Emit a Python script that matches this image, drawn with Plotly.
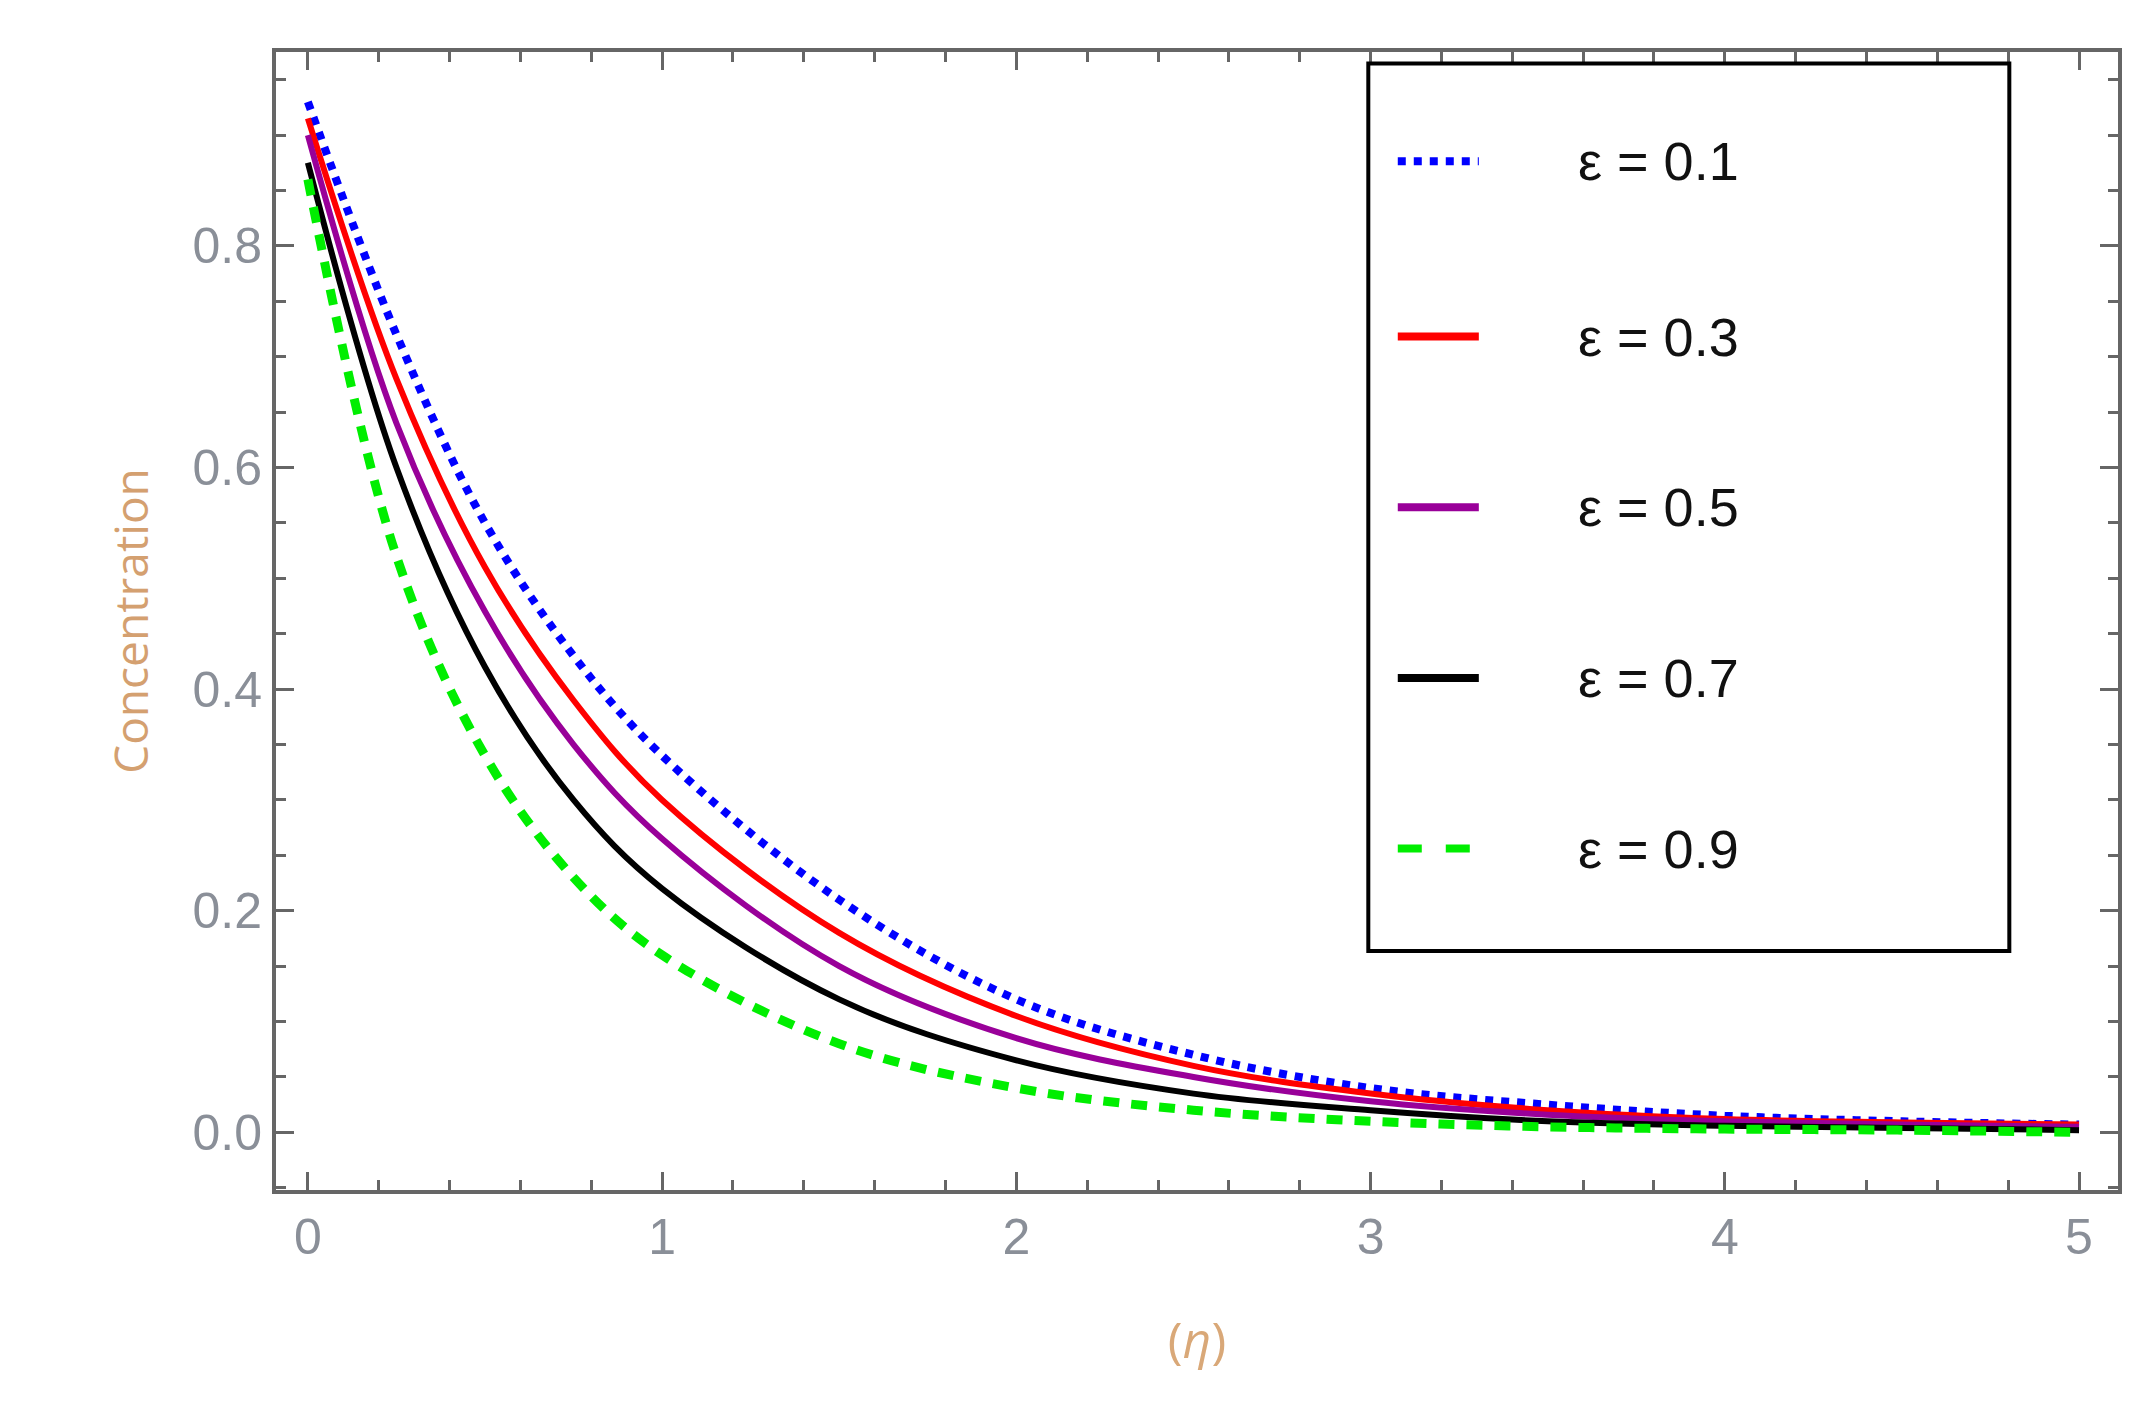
import plotly.graph_objects as go

eta = [0, 0.25, 0.5, 0.75, 1, 1.5, 2, 2.5, 3, 3.5, 4, 4.5, 5]
c_01 = [0.93, 0.72, 0.55, 0.43, 0.34, 0.21, 0.12, 0.07, 0.04, 0.025, 0.015, 0.01, 0.007]
c_03 = [0.915, 0.68, 0.51, 0.39, 0.30, 0.18, 0.105, 0.06, 0.035, 0.02, 0.012, 0.009, 0.007]
c_05 = [0.9, 0.64, 0.47, 0.35, 0.265, 0.15, 0.085, 0.05, 0.028, 0.016, 0.01, 0.007, 0.005]
c_07 = [0.875, 0.6, 0.42, 0.3, 0.22, 0.12, 0.065, 0.035, 0.02, 0.01, 0.006, 0.004, 0.002]
c_09 = [0.86, 0.52, 0.34, 0.23, 0.16, 0.08, 0.04, 0.02, 0.01, 0.005, 0.003, 0.002, 0.0]
labels = ['ε = 0.1', 'ε = 0.3', 'ε = 0.5', 'ε = 0.7', 'ε = 0.9']

series = [c_01, c_03, c_05, c_07, c_09]
colors = ['#0000ff', '#ff0000', '#990099', '#000000', '#00ee00']
dashes = ['dot', 'solid', 'solid', 'solid', '16px,12px']
widths = [8, 6, 6, 6, 9]

fig = go.Figure()
for y, c, d, w in zip(series, colors, dashes, widths):
    fig.add_scatter(x=eta, y=y, mode='lines', line=dict(color=c, dash=d, width=w, shape='spline', smoothing=1.0),
                    showlegend=False)

# legend box drawn by hand
fig.add_shape(type='rect', xref='paper', yref='paper', x0=0.593, x1=0.941, y0=0.21, y1=0.99,
              line=dict(color='black', width=4), fillcolor='white')
row_y = [0.904, 0.750, 0.600, 0.450, 0.300]
for yy, lab, c, d, w in zip(row_y, labels, colors, dashes, widths):
    fig.add_shape(type='line', xref='paper', yref='paper', x0=0.609, x1=0.653, y0=yy, y1=yy,
                  line=dict(color=c, width=8, dash='dot' if d == 'dot' else ('dash' if c == '#00ee00' else 'solid')))
    fig.add_annotation(text=lab, xref='paper', yref='paper', x=0.706, y=yy, xanchor='left', yanchor='middle',
                       showarrow=False, font=dict(size=54, color='#111111', family='Liberation Sans'))

ax = dict(showline=True, linecolor='#666666', linewidth=4, mirror='ticks', ticks='inside',
          tickcolor='#666666', tickwidth=3, ticklen=18, showgrid=False, zeroline=False,
          tickfont=dict(size=50, color='#8a8f98', family='Liberation Sans'),
          minor=dict(ticks='inside', ticklen=10, tickcolor='#666666', tickwidth=3))
fig.update_xaxes(ax, range=[-0.09, 5.11], tickvals=[0, 1, 2, 3, 4, 5], minor_dtick=0.2,
                 title=dict(text='(<i>η</i>)', font=dict(size=50, color='#d9a878'), standoff=60))
fig.update_yaxes(ax, range=[-0.052, 0.975], tickvals=[0, 0.2, 0.4, 0.6, 0.8], tickformat='.1f',
                 minor_dtick=0.05,
                 title=dict(text='Concentration', font=dict(size=46, color='#d4a070'), standoff=30))
fig.update_layout(width=2131, height=1416, plot_bgcolor='white', paper_bgcolor='white',
                  margin=dict(l=268, r=21, t=44, b=234))
fig.write_html("out.html")
